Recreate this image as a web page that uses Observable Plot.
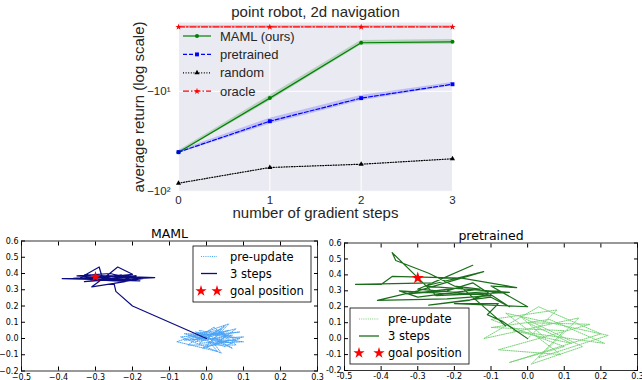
<!DOCTYPE html>
<html><head><meta charset="utf-8">
<script src="https://cdn.jsdelivr.net/npm/d3@7"></script>
<script src="https://cdn.jsdelivr.net/npm/@observablehq/plot@0.6"></script>
<style>
html,body{margin:0;padding:0;background:#fff;}
#root{position:relative;width:642px;height:380px;overflow:hidden;}
#root > svg{position:absolute;}
</style></head><body><div id="root"></div>
<script>
// ---------- top chart data ----------
const topTitle = "point robot, 2d navigation";
const topXLabel = "number of gradient steps";
const topYLabel = "average return (log scale)";
const steps = [0, 1, 2, 3];
const mamlReturn = [-40.6, -11.7, -3.27, -3.2];
const mamlLo = [-41.8, -12.5, -3.45, -3.38];
const mamlHi = [-39.4, -11.0, -3.1, -3.03];
const pretrainedReturn = [-40.6, -19.9, -11.7, -8.5];
const pretrainedLo = [-41.8, -21.3, -12.4, -8.85];
const pretrainedHi = [-39.4, -18.6, -11.0, -8.15];
const randomReturn = [-83, -57.8, -53.6, -47.3];
const oracleReturn = [-2.27, -2.27, -2.27, -2.27];
const oracleLo = [-2.34, -2.34, -2.34, -2.34];
const oracleHi = [-2.2, -2.2, -2.2, -2.2];
const topYTicks = [-10, -100];
const topYTickLabels = ["\u221210\u00b9", "\u221210\u00b2"];
const seriesNames = ["MAML (ours)", "pretrained", "random", "oracle"];

// ---------- trajectory data ----------
const trajXTicks = [-0.5, -0.4, -0.3, -0.2, -0.1, 0.0, 0.1, 0.2, 0.3];
const trajYTicks = [-0.2, -0.1, 0.0, 0.1, 0.2, 0.3, 0.4, 0.5, 0.6];
const goalPosition = [-0.3, 0.38];
const legendLabels = ["pre-update", "3 steps", "goal position"];
const mamlPre = [[0,0],[0.04,0.06],[-0.03,-0.02],[0.07,0.02],[-0.06,0.03],[0.05,-0.05],[0.09,0.0],[-0.02,0.05],[0.03,-0.08],[-0.08,-0.02],[0.06,0.09],[0.01,-0.03],[0.1,-0.02],[-0.04,0.01],[0.04,0.04],[0.08,-0.04],[-0.05,-0.04],[0.02,0.07],[0.06,-0.01],[-0.01,-0.06],[0.03,0.02],[0.09,0.04],[-0.07,0.01],[0.04,-0.09],[0.0,0.03],[0.07,-0.06],[-0.03,0.04],[0.05,0.01],[0.02,-0.04],[0.08,0.06],[-0.04,-0.01],[0.01,0.01],[0.06,0.05],[-0.06,-0.01],[0.1,0.01],[0.0,-0.05],[0.05,0.08],[-0.02,-0.03],[0.08,-0.01],[0.03,0.05],[-0.05,0.02],[0.07,-0.03],[0.02,0.0]];
const maml3Steps = [[0,0],[-0.2,0.2],[-0.245,0.29],[-0.25,0.34],[-0.17,0.37],[-0.33,0.39],[-0.14,0.375],[-0.26,0.36],[-0.39,0.368],[-0.3,0.372],[-0.2,0.395],[-0.24,0.44],[-0.27,0.385],[-0.31,0.318],[-0.22,0.35],[-0.34,0.375],[-0.29,0.44],[-0.28,0.36],[-0.18,0.355],[-0.35,0.385],[-0.26,0.4],[-0.21,0.37],[-0.33,0.35],[-0.19,0.385],[-0.3,0.38],[-0.25,0.355],[-0.36,0.37],[-0.23,0.39],[-0.28,0.37]];
const pretrainedPre = [[0,0],[0.08,0.18],[-0.1,0.12],[0.1,-0.05],[-0.05,-0.15],[0.2,0.03],[0.03,0.2],[-0.12,0.0],[0.14,0.13],[0.03,-0.12],[0.22,0.02],[-0.06,0.16],[0.09,-0.1],[-0.08,-0.07],[0.17,0.09],[0.0,0.1],[0.12,-0.03],[-0.04,0.05],[0.21,-0.03],[0.06,0.12],[-0.1,0.07],[0.1,0.05],[0.01,-0.16],[0.15,-0.05],[-0.02,0.14],[0.05,0.0]];
const pretrained3Steps = [[0,0],[-0.07,0.11],[-0.11,0.15],[-0.08,0.22],[-0.2,0.22],[0.0,0.2],[-0.1,0.33],[-0.03,0.32],[-0.18,0.38],[-0.37,0.39],[-0.4,0.34],[-0.47,0.34],[-0.26,0.35],[-0.15,0.46],[-0.3,0.31],[-0.1,0.27],[-0.22,0.25],[-0.41,0.24],[-0.3,0.3],[-0.12,0.42],[-0.28,0.33],[-0.05,0.29],[-0.25,0.27],[-0.37,0.54],[-0.36,0.49],[-0.27,0.41],[-0.2,0.33],[-0.13,0.31],[-0.3,0.26],[-0.35,0.3],[-0.2,0.28],[-0.08,0.3],[-0.16,0.24],[-0.27,0.21],[-0.1,0.26],[-0.05,0.2],[-0.15,0.35],[-0.22,0.3],[-0.33,0.28],[-0.18,0.32],[-0.1,0.16],[-0.06,0.08]];

const root = document.getElementById("root");
const TXT = "#262626";

// ---------- top chart ----------
const rows = (vals, lo, hi) => steps.map((s, i) => ({step: s, v: vals[i], lo: lo ? lo[i] : null, hi: hi ? hi[i] : null}));
const mamlRows = rows(mamlReturn, mamlLo, mamlHi);
const preRows = rows(pretrainedReturn, pretrainedLo, pretrainedHi);
const randRows = rows(randomReturn);
const oracleRows = rows(oracleReturn, oracleLo, oracleHi);
const styles = [
  {color: "#008000", dash: null, symbol: "circle", r: 2},
  {color: "#0000ff", dash: "4,2", symbol: "square", r: 2.2},
  {color: "#000000", dash: "1,1.6", symbol: "triangle", r: 1.9},
  {color: "#ff0000", dash: "6,2,1.5,2", symbol: "star", r: 2}
];
const seriesRows = [mamlRows, preRows, randRows, oracleRows];

const topChart = Plot.plot({
  width: 642, height: 225,
  marginLeft: 178, marginRight: 190, marginTop: 22, marginBottom: 34,
  style: {fontFamily: "Liberation Sans", fontSize: "11.5px", color: TXT, background: "transparent", overflow: "visible"},
  x: {domain: [0, 3]},
  y: {type: "log", domain: [-100.5, -2.05]},
  marks: [
    Plot.frame({fill: "#EAEAF2", stroke: "none"}),
    Plot.gridX(steps, {stroke: "white", strokeOpacity: 1, strokeWidth: 1}),
    Plot.gridY(topYTicks, {stroke: "white", strokeOpacity: 1, strokeWidth: 1}),
    Plot.areaY(oracleRows, {x: "step", y1: "lo", y2: "hi", fill: "#ff0000", fillOpacity: 0.2}),
    Plot.areaY(mamlRows, {x: "step", y1: "lo", y2: "hi", fill: "#008000", fillOpacity: 0.22}),
    Plot.areaY(preRows, {x: "step", y1: "lo", y2: "hi", fill: "#0000ff", fillOpacity: 0.18}),
    ...seriesRows.flatMap((rs, k) => [
      Plot.line(rs, {x: "step", y: "v", stroke: styles[k].color, strokeWidth: 1.2, strokeDasharray: styles[k].dash}),
      Plot.dot(rs, {x: "step", y: "v", fill: styles[k].color, stroke: "none", symbol: styles[k].symbol, r: styles[k].r})
    ]),
    Plot.axisX(steps, {tickSize: 0, tickPadding: 4, tickFormat: d => String(d), label: null}),
    Plot.axisY(topYTicks, {tickSize: 0, tickPadding: 8, tickFormat: d => topYTickLabels[topYTicks.indexOf(d)], label: null}),
    Plot.text([topTitle], {frameAnchor: "top", lineAnchor: "middle", textAnchor: "middle", dy: -10, fontSize: 15, fill: TXT}),
    Plot.text([topXLabel], {frameAnchor: "bottom", lineAnchor: "middle", textAnchor: "middle", dy: 22, fontSize: 15, fill: TXT}),
    Plot.text([topYLabel], {frameAnchor: "left", lineAnchor: "middle", textAnchor: "middle", dx: -39, rotate: -90, fontSize: 15, fill: TXT})
  ]
});
topChart.style.left = "0px"; topChart.style.top = "0px";
root.appendChild(topChart);

// ---------- trajectory charts ----------
function traj({title, pre, post, preColor, postColor, minus, left, top, w, h, ml, mr, mt, mb, rStar}) {
  const fmt = d => (d < -1e-9 ? minus : "") + Math.abs(d).toFixed(1);
  const c = Plot.plot({
    width: w, height: h, marginLeft: ml, marginRight: mr, marginTop: mt, marginBottom: mb,
    style: {fontFamily: "DejaVu Sans", fontSize: "8px", color: "#000", background: "transparent", overflow: "visible"},
    x: {domain: [-0.5, 0.3]},
    y: {domain: [-0.2, 0.6]},
    marks: [
      Plot.line(pre, {x: d => d[0], y: d => d[1], stroke: preColor, strokeWidth: 1, strokeDasharray: "1,1.2"}),
      Plot.line(post, {x: d => d[0], y: d => d[1], stroke: postColor, strokeWidth: 1.2}),
      Plot.dot([goalPosition], {x: d => d[0], y: d => d[1], symbol: "star", fill: "red", stroke: "none", r: rStar}),
      Plot.frame({stroke: "#000", strokeWidth: 0.8}),
      Plot.axisX(trajXTicks, {anchor: "bottom", tickSize: -4, tickPadding: 7, tickFormat: fmt, label: null}),
      Plot.axisX(trajXTicks, {anchor: "top", tickSize: -4, tickFormat: () => "", label: null}),
      Plot.axisY(trajYTicks, {anchor: "left", tickSize: -4, tickPadding: 7, tickFormat: fmt, label: null}),
      Plot.axisY(trajYTicks, {anchor: "right", tickSize: -4, tickFormat: () => "", label: null}),
      Plot.text([title], {frameAnchor: "top", lineAnchor: "middle", textAnchor: "middle", dy: -7, fontSize: 12.5, fill: "#000"})
    ]
  });
  c.style.left = left + "px"; c.style.top = top + "px";
  root.appendChild(c);
}
const mamlPreColor = "#4aa3f5", mamlPostColor = "#0c0c82";
const ptPreColor = "#74d274", ptPostColor = "#1b6e1b";
traj({title: "MAML", pre: mamlPre, post: maml3Steps, preColor: mamlPreColor, postColor: mamlPostColor, minus: "\u2212",
      left: 0, top: 225, w: 321, h: 155, ml: 21, mr: 4, mt: 15.5, mb: 9.5, rStar: 3.4});
traj({title: "pretrained", pre: pretrainedPre, post: pretrained3Steps, preColor: ptPreColor, postColor: ptPostColor, minus: "-",
      left: 323, top: 225, w: 319, h: 155, ml: 21, mr: 5, mt: 17.5, mb: 10, rStar: 3.9});

// ---------- legends overlay ----------
const ov = d3.create("svg").attr("width", 642).attr("height", 380).style("left", "0px").style("top", "0px");
styles.forEach((s, i) => {
  const y = 36 + i * 18.4;
  const g = ov.append("g");
  g.append("line").attr("x1", 183).attr("x2", 211).attr("y1", y).attr("y2", y)
    .attr("stroke", s.color).attr("stroke-width", 1.2).attr("stroke-dasharray", s.dash);
  g.append("path").attr("transform", `translate(197,${y})`)
    .attr("d", d3.symbol(s.symbol === "circle" ? d3.symbolCircle : s.symbol === "square" ? d3.symbolSquare : s.symbol === "triangle" ? d3.symbolTriangle : d3.symbolStar, Math.PI * s.r * s.r)())
    .attr("fill", s.color);
  g.append("text").attr("x", 220).attr("y", y).attr("dy", "0.35em")
    .attr("font-family", "Liberation Sans").attr("font-size", 13).attr("fill", TXT).text(seriesNames[i]);
});
function trajLegend(x0, y0, w, h, sx1, sx2, tx, rowY, preColor, postColor) {
  const g = ov.append("g");
  g.append("rect").attr("x", x0).attr("y", y0).attr("width", w).attr("height", h)
    .attr("fill", "white").attr("stroke", "#000").attr("stroke-width", 0.8);
  g.append("line").attr("x1", sx1).attr("x2", sx2).attr("y1", rowY[0]).attr("y2", rowY[0])
    .attr("stroke", preColor).attr("stroke-width", 1).attr("stroke-dasharray", "1,1.2");
  g.append("line").attr("x1", sx1).attr("x2", sx2).attr("y1", rowY[1]).attr("y2", rowY[1])
    .attr("stroke", postColor).attr("stroke-width", 1.3);
  [sx1, sx2].forEach(x => g.append("path").attr("transform", `translate(${x},${rowY[2]})`)
    .attr("d", d3.symbol(d3.symbolStar, 40)()).attr("fill", "red"));
  legendLabels.forEach((t, i) => g.append("text").attr("x", tx).attr("y", rowY[i]).attr("dy", "0.35em")
    .attr("font-family", "DejaVu Sans").attr("font-size", 11.5).attr("fill", "#000").text(t));
}
trajLegend(193, 246, 118, 56, 201, 217, 230, [256.5, 273.5, 291], mamlPreColor, mamlPostColor);
trajLegend(350, 308, 119, 56, 359, 379, 388, [319, 336, 353], ptPreColor, ptPostColor);
root.appendChild(ov.node());
</script></body></html>
